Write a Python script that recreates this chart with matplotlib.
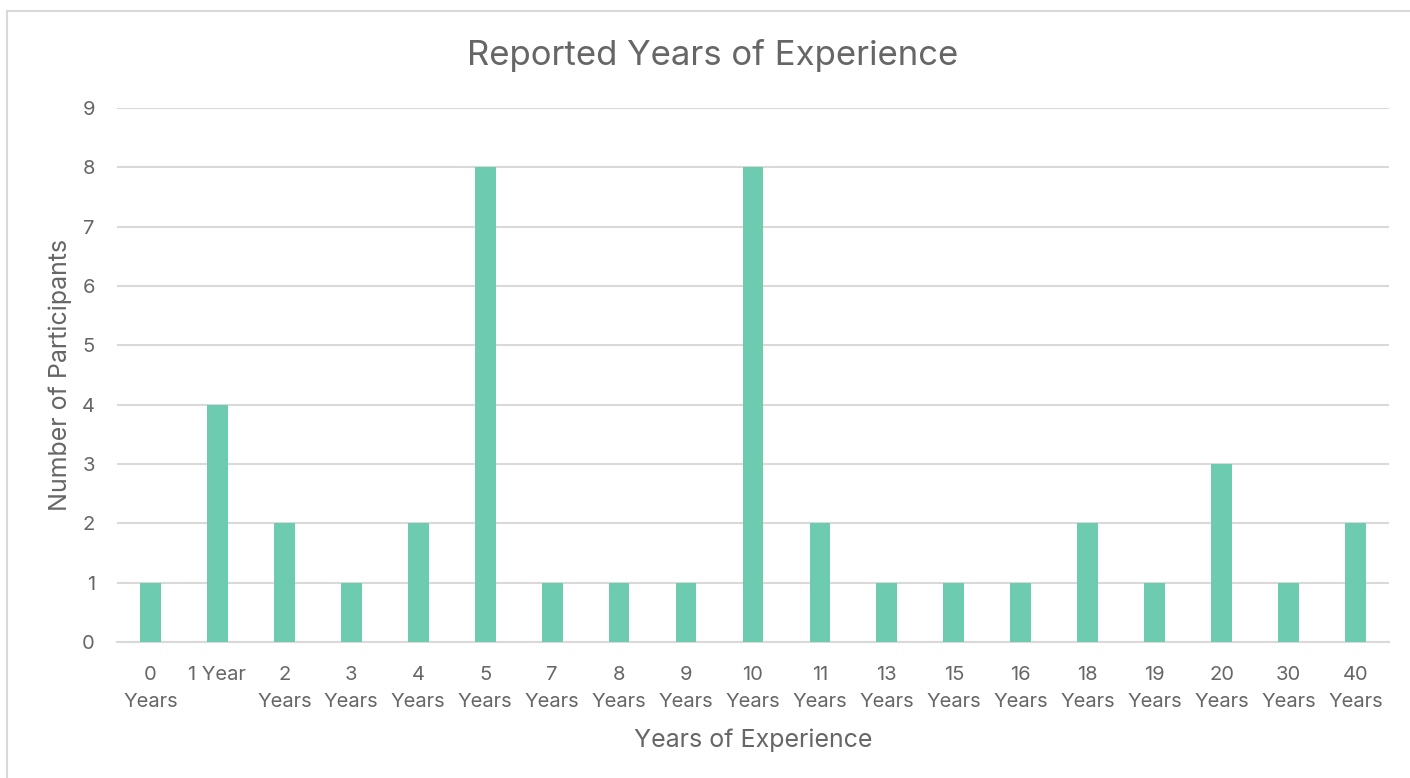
import matplotlib.pyplot as plt
from matplotlib.lines import Line2D
import numpy as np

plt.rcParams['font.family'] = ['Inter', 'DejaVu Sans']

years = ['0\nYears', '1 Year', '2\nYears', '3\nYears', '4\nYears', '5\nYears',
         '7\nYears', '8\nYears', '9\nYears', '10\nYears', '11\nYears', '13\nYears',
         '15\nYears', '16\nYears', '18\nYears', '19\nYears', '20\nYears',
         '30\nYears', '40\nYears']
participants = [1, 4, 2, 1, 2, 8, 1, 1, 1, 8, 2, 1, 1, 1, 2, 1, 3, 1, 2]

bar_color = '#6DCBAF'
text_color = '#666666'
grid_color = '#D9D9D9'

fig = plt.figure(figsize=(14.1, 7.78), dpi=100)
ax = fig.add_axes([0.083, 0.1748, 0.902, 0.6862])

x = np.arange(len(years))
ax.bar(x, participants, width=0.31, color=bar_color, zorder=3)

ax.set_xlim(-0.5, len(years) - 0.5)
ax.set_ylim(0, 9)
ax.set_yticks(range(10))
ax.yaxis.grid(True, color=grid_color, linewidth=1.5, zorder=0)
ax.set_xticks(x)
ax.set_xticklabels(years, multialignment='center', linespacing=1.65)
ax.tick_params(axis='both', length=0, labelsize=14.5, labelcolor=text_color)
ax.tick_params(axis='x', pad=17)
ax.tick_params(axis='y', pad=16)
for s in ['top', 'right', 'left']:
    ax.spines[s].set_visible(False)
ax.spines['bottom'].set_color(grid_color)
ax.spines['bottom'].set_linewidth(1.5)

fig.text(713 / 1410, 1 - 55 / 778, 'Reported Years of Experience', fontsize=25,
         color=text_color, ha='center', va='center')
ax.set_xlabel('Years of Experience', fontsize=18, color=text_color, labelpad=13)
ax.set_ylabel('Number of Participants', fontsize=18, color=text_color, labelpad=7)

# thin frame along the left and top edge
fig.add_artist(Line2D([7 / 1410, 7 / 1410], [0, 1 - 11 / 778], color='#D9D9D9', lw=1.5))
fig.add_artist(Line2D([7 / 1410, 1], [1 - 11 / 778, 1 - 11 / 778], color='#D9D9D9', lw=1.5))

fig.savefig('out.png', dpi=100)
